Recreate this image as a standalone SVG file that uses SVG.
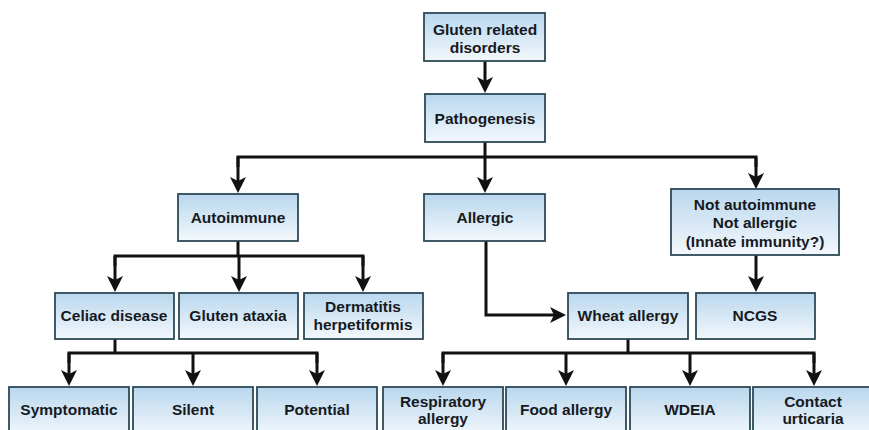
<svg xmlns="http://www.w3.org/2000/svg" width="869" height="430" viewBox="0 0 869 430">
<defs>
<linearGradient id="bg" x1="0" y1="0" x2="0" y2="1">
<stop offset="0" stop-color="#b9d7ee"/>
<stop offset="1" stop-color="#f3f8fc"/>
</linearGradient>
<marker id="ah" markerUnits="userSpaceOnUse" markerWidth="18" markerHeight="18" viewBox="0 0 18 16" refX="4" refY="8" orient="auto">
<path d="M0,0 L16,8 L0,16 L4,8 z" fill="#111"/>
</marker>
<style>
.box{fill:url(#bg);stroke:#2c4a56;stroke-width:1.8}
.t{font-family:"Liberation Sans",Arial,sans-serif;font-weight:bold;font-size:15.5px;fill:#161a1f;text-anchor:middle}
.c{fill:none;stroke:#111;stroke-width:3}
.a{fill:none;stroke:#111;stroke-width:3;marker-end:url(#ah)}
</style>
</defs>
<rect width="869" height="430" fill="#fff"/>

<g id="connectors">
<line class="a" x1="485" y1="61" x2="485" y2="81"/>
<line class="c" x1="485" y1="142" x2="485" y2="157"/>
<polyline class="c" points="238,167 238,157 756,157 756,167"/>
<line class="a" x1="238" y1="157" x2="238" y2="181"/>
<line class="a" x1="485" y1="157" x2="485" y2="181"/>
<line class="a" x1="756" y1="157" x2="756" y2="177"/>

<line class="c" x1="238" y1="241" x2="238" y2="256"/>
<polyline class="c" points="115,266 115,256 363,256 363,266"/>
<line class="a" x1="115" y1="256" x2="115" y2="280"/>
<line class="a" x1="239" y1="256" x2="239" y2="280"/>
<line class="a" x1="363" y1="256" x2="363" y2="280"/>

<polyline class="a" points="486,241 486,315 554,315"/>
<line class="a" x1="756" y1="255" x2="756" y2="280"/>

<line class="c" x1="115" y1="339" x2="115" y2="353"/>
<polyline class="c" points="69,363 69,353 317,353 317,363"/>
<line class="a" x1="69" y1="353" x2="69" y2="374"/>
<line class="a" x1="193" y1="353" x2="193" y2="374"/>
<line class="a" x1="317" y1="353" x2="317" y2="374"/>

<line class="c" x1="628" y1="339" x2="628" y2="353"/>
<polyline class="c" points="443,363 443,353 814,353 814,363"/>
<line class="a" x1="443" y1="353" x2="443" y2="374"/>
<line class="a" x1="566" y1="353" x2="566" y2="374"/>
<line class="a" x1="690" y1="353" x2="690" y2="374"/>
<line class="a" x1="814" y1="353" x2="814" y2="374"/>
</g>

<g id="gluten-related">
<rect class="box" x="424" y="13" width="121" height="48"/>
<text class="t" x="485" y="35">Gluten related</text>
<text class="t" x="485" y="53">disorders</text>
</g>
<g id="pathogenesis">
<rect class="box" x="425" y="94" width="120" height="48"/>
<text class="t" x="485" y="124">Pathogenesis</text>
</g>
<g id="autoimmune">
<rect class="box" x="178" y="194" width="120" height="47"/>
<text class="t" x="238" y="223">Autoimmune</text>
</g>
<g id="allergic">
<rect class="box" x="424" y="194" width="121" height="47"/>
<text class="t" x="485" y="223">Allergic</text>
</g>
<g id="not-autoimmune">
<rect class="box" x="671" y="189" width="168" height="66"/>
<text class="t" x="755" y="210">Not autoimmune</text>
<text class="t" x="755" y="228">Not allergic</text>
<text class="t" x="755" y="247">(Innate immunity?)</text>
</g>
<g id="celiac">
<rect class="box" x="55" y="293" width="119" height="46"/>
<text class="t" x="114" y="321">Celiac disease</text>
</g>
<g id="gluten-ataxia">
<rect class="box" x="179" y="293" width="119" height="46"/>
<text class="t" x="238" y="321">Gluten ataxia</text>
</g>
<g id="dermatitis">
<rect class="box" x="304" y="293" width="119" height="46"/>
<text class="t" x="363" y="312">Dermatitis</text>
<text class="t" x="363" y="330">herpetiformis</text>
</g>
<g id="wheat-allergy">
<rect class="box" x="568" y="293" width="120" height="46"/>
<text class="t" x="628" y="321">Wheat allergy</text>
</g>
<g id="ncgs">
<rect class="box" x="696" y="293" width="119" height="46"/>
<text class="t" x="755" y="321">NCGS</text>
</g>
<g id="symptomatic">
<rect class="box" x="9" y="387" width="120" height="50"/>
<text class="t" x="69" y="415">Symptomatic</text>
</g>
<g id="silent">
<rect class="box" x="133" y="387" width="120" height="50"/>
<text class="t" x="193" y="415">Silent</text>
</g>
<g id="potential">
<rect class="box" x="257" y="387" width="120" height="50"/>
<text class="t" x="317" y="415">Potential</text>
</g>
<g id="respiratory">
<rect class="box" x="383" y="387" width="120" height="50"/>
<text class="t" x="443" y="407">Respiratory</text>
<text class="t" x="443" y="424">allergy</text>
</g>
<g id="food-allergy">
<rect class="box" x="506" y="387" width="120" height="50"/>
<text class="t" x="566" y="415">Food allergy</text>
</g>
<g id="wdeia">
<rect class="box" x="630" y="387" width="120" height="50"/>
<text class="t" x="690" y="415">WDEIA</text>
</g>
<g id="contact-urticaria">
<rect class="box" x="753" y="387" width="120" height="50"/>
<text class="t" x="813" y="407">Contact</text>
<text class="t" x="813" y="424">urticaria</text>
</g>
</svg>
